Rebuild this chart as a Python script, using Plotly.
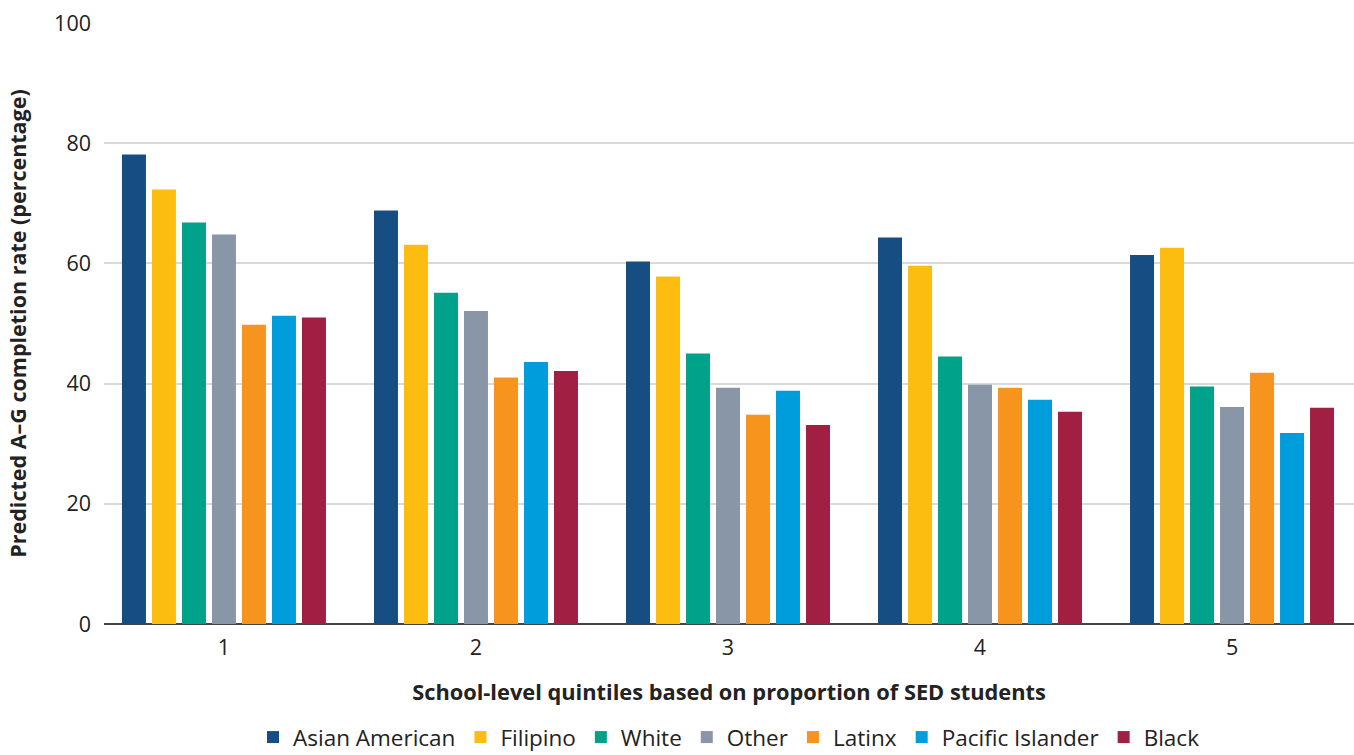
import plotly.graph_objects as go

# Quintiles of schools by share of socioeconomically disadvantaged (SED) students
quintiles = ["1", "2", "3", "4", "5"]

groups = ["Asian American", "Filipino", "White", "Other", "Latinx", "Pacific Islander", "Black"]

asian_american = [78.1, 68.8, 60.3, 64.3, 61.4]
filipino = [72.3, 63.1, 57.8, 59.6, 62.6]
white = [66.8, 55.1, 45.0, 44.5, 39.5]
other = [64.8, 52.1, 39.3, 39.8, 36.1]
latinx = [49.8, 41.0, 34.8, 39.3, 41.8]
pacific_islander = [51.3, 43.6, 38.8, 37.3, 31.8]
black = [51.0, 42.1, 33.1, 35.3, 36.0]

series = [asian_american, filipino, white, other, latinx, pacific_islander, black]
colors = ["#164D82", "#FDBD10", "#00A389", "#8896A7", "#F7941E", "#009DDC", "#A11F43"]

y_ticks = [0, 20, 40, 60, 80, 100]

font_family = "'Open Sans', sans-serif"

fig = go.Figure()
for name, vals, col in zip(groups, series, colors):
    fig.add_trace(go.Bar(
        x=quintiles, y=vals, name=name,
        marker=dict(color=col, line=dict(width=0)),
    ))

fig.update_layout(
    barmode="group",
    bargap=0.1667,
    bargroupgap=0.2,
    width=1354, height=755,
    margin=dict(l=104, r=0, t=23, b=131, autoexpand=False),
    plot_bgcolor="white", paper_bgcolor="white",
    font=dict(family=font_family, size=21, color="#222222"),
    legend=dict(
        orientation="h", x=0.5, xanchor="center", y=-0.153, yanchor="top",
        font=dict(size=22.5, color="#222222"),
        tracegroupgap=0,
    ),
    xaxis=dict(
        range=[-0.476, 4.484],
        automargin=False,
        showgrid=False,
        showline=False,
        ticks="", ticklabelstandoff=8,
        tickfont=dict(size=21.5),
        title=dict(text="<b>School-level quintiles based on proportion of SED students</b>",
                   font=dict(size=21.8), standoff=25),
    ),
    yaxis=dict(
        range=[0, 100],
        automargin=False,
        tickvals=y_ticks,
        showgrid=True, gridcolor="#D9D9D9", gridwidth=1.5,
        zeroline=True, zerolinecolor="#444444", zerolinewidth=1.5,
        ticks="", ticklabelstandoff=12,
        tickfont=dict(size=21.5),
        title=dict(text="<b>Predicted A–G completion rate (percentage)</b>",
                   font=dict(size=21.5), standoff=21),
    ),
)

fig.write_html("out.html")
